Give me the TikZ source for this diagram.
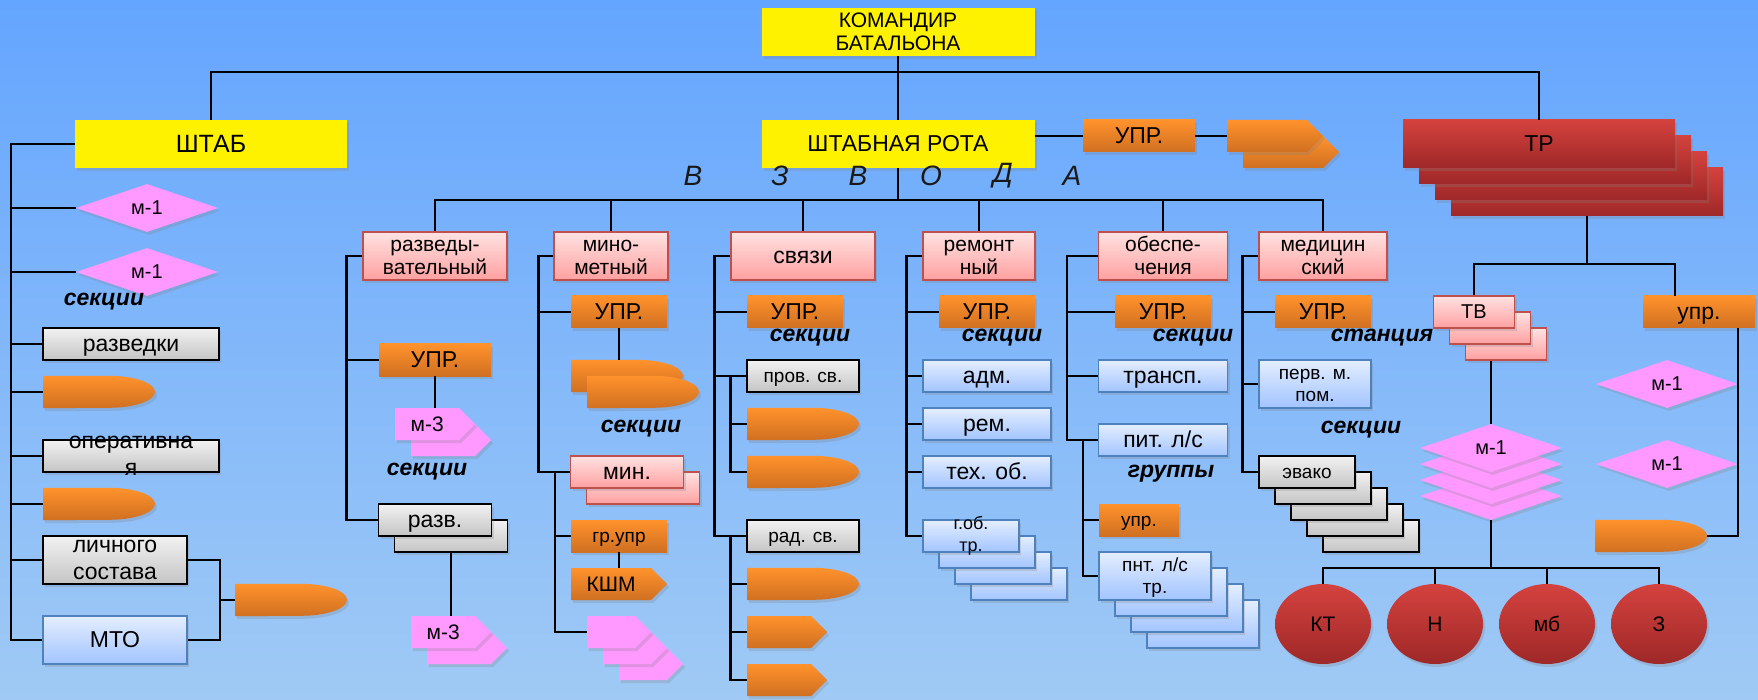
\documentclass[tikz,border=0pt]{standalone}
\usepackage{fontspec}
\setmainfont{Liberation Sans}
\usetikzlibrary{shapes.geometric,shapes.symbols,shadows}

\definecolor{bgtop}{RGB}{100,165,255}
\definecolor{bgbot}{RGB}{160,202,245}
\definecolor{ortop}{RGB}{255,146,44}
\definecolor{orbot}{RGB}{208,112,34}
\definecolor{pktop}{RGB}{255,226,226}
\definecolor{pkbot}{RGB}{255,160,160}
\definecolor{pkline}{RGB}{192,80,77}
\definecolor{bltop}{RGB}{228,238,255}
\definecolor{blbot}{RGB}{162,196,255}
\definecolor{blline}{RGB}{79,129,189}
\definecolor{grtop}{RGB}{242,242,242}
\definecolor{grbot}{RGB}{196,196,196}
\definecolor{rdtop}{RGB}{212,66,62}
\definecolor{rdbot}{RGB}{158,40,40}
\definecolor{mpink}{RGB}{255,153,255}

\tikzset{
  shad/.style={drop shadow={opacity=0.25, shadow xshift=2pt, shadow yshift=-3pt}},
  box/.style={rectangle, inner sep=0pt, align=center, font=\fontsize{23}{24}\selectfont,
    text height=20.8pt, text depth=4.9pt, shad},
  yellowbox/.style={box, fill=yellow},
  orbox/.style={box, top color=ortop, bottom color=orbot},
  pinkbox/.style={box, top color=pktop, bottom color=pkbot, draw=pkline, line width=1.5pt},
  bluebox/.style={box, top color=bltop, bottom color=blbot, draw=blline, line width=1.5pt},
  graybox/.style={box, top color=grtop, bottom color=grbot, draw=black, line width=1.5pt},
  redbox/.style={box, top color=rdtop, bottom color=rdbot},
  mid/.style={font=\fontsize{21}{22}\selectfont, text height=19pt, text depth=4.5pt},
  mdiam/.style={box, diamond, aspect=3, fill=mpink, minimum width=142pt, minimum height=48pt,
    font=\fontsize{20}{22}\selectfont, text height=18.1pt, text depth=4.2pt},
  sigpink/.style={box, mid, signal, signal to=east, fill=mpink, minimum height=32pt, anchor=west},
  sigor/.style={box, mid, signal, signal to=east, top color=ortop, bottom color=orbot, minimum height=32pt, anchor=west},
  two/.style={font=\fontsize{21}{23}\selectfont, text height=42pt, text depth=4.5pt},
  small/.style={font=\fontsize{19}{22}\selectfont, text height=17.2pt, text depth=4pt},
  twosmall/.style={font=\fontsize{19}{22}\selectfont, text height=39.2pt, text depth=4pt},
  txt/.style={inner sep=0pt, align=center, font=\fontsize{23}{27.5}\selectfont},
  lbl/.style={inner sep=0pt, font=\fontsize{23}{24}\selectfont\bfseries\itshape},
  vzv/.style={inner sep=0pt, font=\fontsize{28}{28}\selectfont\itshape, text=black!90},
  conn/.style={line width=2.5pt}
}

% orange shell: name, west point
\newcommand{\orshell}[2]{%
  \node[inner sep=0pt, minimum width=112pt, minimum height=32pt, anchor=west] (#1) at #2 {};
  \path[top color=ortop, bottom color=orbot, shad] (#1.north west) -- ++(66,0)
    arc[start angle=90, end angle=-90, x radius=46pt, y radius=16pt] -- (#1.south west) -- cycle;
}

\begin{document}
\begin{tikzpicture}[x=1pt, y=-1pt]
\useasboundingbox (0,0) rectangle (1758,700);
\shade[top color=bgtop, bottom color=bgbot] (0,0) rectangle (1758,700);

% top level
\node[yellowbox, two, minimum width=273pt, minimum height=48pt] (kombat) at (898,32) {КОМАНДИР\\БАТАЛЬОНА};
\node[yellowbox, minimum width=272pt, minimum height=48pt, font=\fontsize{25}{26}\selectfont,
  text height=22.6pt, text depth=5.3pt] (shtab) at (211,144) {ШТАБ};
\node[yellowbox, minimum width=273pt, minimum height=48pt] (rota) at (898,144) {ШТАБНАЯ РОТА};
\node[orbox, minimum width=112pt, minimum height=32pt] (rupr) at (1139,136) {УПР.};
\node[sigor, minimum width=96pt] (rkshm2) at (1243,152) {};
\node[sigor, minimum width=96pt] (rkshm) at (1227,136) {};
\foreach \i in {3,2,1}
  \node[redbox, minimum width=272pt, minimum height=48pt] (tr\i) at (1539+16*\i,144+16*\i) {};
\node[redbox, minimum width=272pt, minimum height=48pt] (tr) at (1539,144) {ТР};

\foreach \x/\l in {693/В,780/З,858/В,931/О,1003/Д,1072/А}
  \node[vzv] (v\x) at (\x,176) {\l};

% shtab
\node[mdiam] (shm1) at (147,208) {м-1};
\node[mdiam] (shm2) at (147,272) {м-1};
\node[lbl] (sek1) at (104,302) {секции};
\node[graybox, minimum width=176pt, minimum height=32pt] (razvedki) at (131,344) {разведки};
\orshell{shb1}{(43,392)}
\node[graybox, minimum width=176pt, minimum height=32pt] (oper) at (131,456) {};
\node[txt] (opert) at (oper) {оперативна\\я};
\orshell{shb2}{(43,504)}
\node[graybox, minimum width=144pt, minimum height=48pt] (lich) at (115,560) {};
\node[txt] (licht) at (lich) {личного\\состава};
\node[bluebox, minimum width=144pt, minimum height=48pt] (mto) at (115,640) {МТО};
\orshell{shb3}{(235,600)}

% razvedyvatelny
\node[pinkbox, two, minimum width=144pt, minimum height=48pt] (razv) at (435,256) {разведы-\\вательный};
\node[orbox, minimum width=112pt, minimum height=32pt] (razvupr) at (435,360) {УПР.};
\node[sigpink, minimum width=80pt] (m3a2) at (411,440) {};
\node[sigpink, minimum width=80pt] (m3a) at (395,424) {м-3};
\node[lbl] (sek2) at (427,472) {секции};
\node[graybox, minimum width=113pt, minimum height=32pt] (rzv2) at (451,536) {};
\node[graybox, minimum width=113pt, minimum height=32pt] (rzv) at (435,520) {разв.};
\node[sigpink, minimum width=80pt] (m3b2) at (427,648) {};
\node[sigpink, minimum width=80pt] (m3b) at (411,632) {м-3};

% minometny
\node[pinkbox, two, minimum width=114pt, minimum height=48pt] (mino) at (611,256) {мино-\\метный};
\node[orbox, minimum width=96pt, minimum height=32pt] (minoupr) at (619,312) {УПР.};
\orshell{mb1}{(571,376)}
\orshell{mb2}{(587,392)}
\node[lbl] (sek3) at (641,429) {секции};
\node[pinkbox, minimum width=113pt, minimum height=32pt] (min2) at (643,488) {};
\node[pinkbox, minimum width=113pt, minimum height=32pt] (min) at (627,472) {мин.};
\node[orbox, small, minimum width=96pt, minimum height=32pt] (grupr) at (619,536) {гр.упр};
\node[sigor, minimum width=96pt] (kshm) at (571,584) {КШМ};
\foreach \i in {2,1}
  \node[sigpink, minimum width=64pt] (pt\i) at (587+16*\i,632+16*\i) {};
\node[sigpink, minimum width=64pt] (pt) at (587,632) {};

% svyazi
\node[pinkbox, minimum width=144pt, minimum height=48pt] (svyaz) at (803,256) {связи};
\node[orbox, minimum width=96pt, minimum height=32pt] (svupr) at (795,312) {УПР.};
\node[lbl] (sek4) at (810,338) {секции};
\node[graybox, small, minimum width=112pt, minimum height=32pt] (prov) at (803,376) {пров. св.};
\orshell{sb1}{(747,424)}
\orshell{sb2}{(747,472)}
\node[graybox, small, minimum width=112pt, minimum height=32pt] (rad) at (803,536) {рад. св.};
\orshell{sb3}{(747,584)}
\node[sigor, minimum width=80pt] (sa1) at (747,632) {};
\node[sigor, minimum width=80pt] (sa2) at (747,680) {};

% remontny
\node[pinkbox, two, minimum width=112pt, minimum height=48pt] (remont) at (979,256) {ремонт\\ный};
\node[orbox, minimum width=96pt, minimum height=32pt] (remupr) at (987,312) {УПР.};
\node[lbl] (sek5) at (1002,338) {секции};
\node[bluebox, minimum width=128pt, minimum height=32pt] (adm) at (987,376) {адм.};
\node[bluebox, minimum width=128pt, minimum height=32pt] (rem) at (987,424) {рем.};
\node[bluebox, minimum width=128pt, minimum height=32pt] (teh) at (987,472) {тех. об.};
\foreach \i in {3,2,1}
  \node[bluebox, minimum width=96pt, minimum height=32pt] (gob\i) at (971+16*\i,536+16*\i) {};
\node[bluebox, minimum width=96pt, minimum height=32pt] (gob) at (971,536) {};
\node[txt, font=\fontsize{18}{22}\selectfont] (gobt) at (gob) {г.об.\\тр.};

% obespecheniya
\node[pinkbox, two, minimum width=129pt, minimum height=48pt] (obesp) at (1163,256) {обеспе-\\чения};
\node[orbox, minimum width=96pt, minimum height=32pt] (obupr) at (1163,312) {УПР.};
\node[lbl] (sek6) at (1193,338) {секции};
\node[bluebox, minimum width=129pt, minimum height=32pt] (transp) at (1163,376) {трансп.};
\node[bluebox, minimum width=129pt, minimum height=32pt] (pit) at (1163,440) {пит. л/с};
\node[lbl] (grp) at (1171,474) {группы};
\node[orbox, small, minimum width=80pt, minimum height=32pt] (obupr2) at (1139,520) {упр.};
\foreach \i in {3,2,1}
  \node[bluebox, minimum width=112pt, minimum height=48pt] (pnt\i) at (1155+16*\i,576+16*\i) {};
\node[bluebox, twosmall, minimum width=112pt, minimum height=48pt] (pnt) at (1155,576) {пнт. л/с\\тр.};

% medicinsky
\node[pinkbox, two, minimum width=128pt, minimum height=48pt] (med) at (1323,256) {медицин\\ский};
\node[orbox, minimum width=96pt, minimum height=32pt] (medupr) at (1323,312) {УПР.};
\node[lbl] (stan) at (1382,338) {станция};
\node[bluebox, twosmall, minimum width=112pt, minimum height=48pt] (perv) at (1315,384) {перв. м.\\пом.};
\node[lbl] (sek7) at (1361,430) {секции};
\foreach \i in {4,3,2,1}
  \node[graybox, minimum width=96pt, minimum height=32pt] (evako\i) at (1307+16*\i,472+16*\i) {};
\node[graybox, small, minimum width=96pt, minimum height=32pt] (evako) at (1307,472) {эвако};

% TR
\foreach \i in {2,1}
  \node[pinkbox, minimum width=81pt, minimum height=32pt] (tv\i) at (1474+16*\i,312+16*\i) {};
\node[pinkbox, font=\fontsize{20}{22}\selectfont, text height=18.1pt, text depth=4.2pt,
  minimum width=81pt, minimum height=32pt] (tv) at (1474,312) {ТВ};
\node[orbox, minimum width=112pt, minimum height=32pt] (trupr) at (1699,312) {упр.};
\node[mdiam] (rd1) at (1667,384) {м-1};
\node[mdiam] (rd2) at (1667,464) {м-1};
\orshell{rb}{(1595,536)}
\foreach \i in {3,2,1}
  \node[mdiam] (md\i) at (1491,448+16*\i) {};
\node[mdiam] (md) at (1491,448) {м-1};
\foreach \x/\t/\n in {1323/КТ/ekt,1435/Н/en,1547/мб/emb,1659/З/ez}
  \node[redbox, mid, ellipse, minimum width=96pt, minimum height=80pt] (\n) at (\x,624) {\t};

% connectors
\draw[conn] (kombat.south) -- (rota.north);
\draw[conn] (kombat.south) -- ++(0,16) coordinate (kb) -| (shtab.north);
\draw[conn] (kb) -| (tr.north);
\draw[conn] (rota.east |- rupr.west) -- (rupr.west);
\draw[conn] (rupr.east) -- (rkshm.west);
\draw[conn] (rota.south) -- ++(0,32) coordinate (vzb) -| (razv.north);
\foreach \n in {mino,svyaz,remont,obesp,med}
  \draw[conn] (vzb) -| (\n.north);

\draw[conn] (shtab.west) -- ++(-64,0) coordinate (s0) |- (mto.west);
\foreach \n in {shm1,shm2,razvedki,shb1,oper,shb2,lich}
  \draw[conn] (s0) |- (\n.west);
\draw[conn] (lich.east) -- ++(32,0) coordinate (br) |- (mto.east);
\draw[conn] (br |- shb3.west) -- (shb3.west);

\draw[conn] (razv.west) -- ++(-16,0) coordinate (s1) |- (rzv.west);
\draw[conn] (s1) |- (razvupr.west);
\draw[conn] (razvupr.south) -- (razvupr.south |- m3a.north);
\draw[conn] (rzv2.south) -- (rzv2.south |- m3b.north);

\draw[conn] (mino.west) -- ++(-15,0) coordinate (s2) |- (min.west);
\draw[conn] (s2) |- (minoupr.west);
\draw[conn] (minoupr.south) -- (minoupr.south |- mb1.north);
\draw[conn] (min.west) -- ++(-15,0) coordinate (s3) |- (pt.west);
\draw[conn] (s3) |- (grupr.west);
\draw[conn] (grupr.south) -- (grupr.south |- kshm.north);

\draw[conn] (svyaz.west) -- ++(-16,0) coordinate (s4) |- (rad.west);
\draw[conn] (s4) |- (svupr.west);
\draw[conn] (s4) |- (prov.west);
\draw[conn] (prov.west) -- ++(-16,0) coordinate (s5) |- (sb2.west);
\draw[conn] (s5) |- (sb1.west);
\draw[conn] (rad.west) -- ++(-16,0) coordinate (s6) |- (sa2.west);
\draw[conn] (s6) |- (sb3.west);
\draw[conn] (s6) |- (sa1.west);

\draw[conn] (remont.west) -- ++(-16,0) coordinate (s7) |- (gob.west);
\foreach \n in {remupr,adm,rem,teh}
  \draw[conn] (s7) |- (\n.west);

\draw[conn] (obesp.west) -- ++(-31,0) coordinate (s8) |- (pit.west);
\foreach \n in {obupr,transp}
  \draw[conn] (s8) |- (\n.west);
\draw[conn] (pit.west) -- ++(-15,0) coordinate (s9) |- (pnt.west);
\draw[conn] (s9) |- (obupr2.west);

\draw[conn] (med.west) -- ++(-16,0) coordinate (s10) |- (evako.west);
\foreach \n in {medupr,perv}
  \draw[conn] (s10) |- (\n.west);

\draw[conn] (tr3.south) -- ++(0,48) coordinate (trb) -| (tv.north);
\draw[conn] (trb) -| ([xshift=-24pt]trupr.north);
\draw[conn] (rd1.east |- trupr.south) -- (rd2.east) |- (rb.east);
\draw[conn] (tv2.south -| md.north) -- (md.north);
\draw[conn] (md3.south) -- ++(0,48) coordinate (elb) -| (ekt.north);
\foreach \n in {en,emb,ez}
  \draw[conn] (elb) -| (\n.north);
\end{tikzpicture}
\end{document}
